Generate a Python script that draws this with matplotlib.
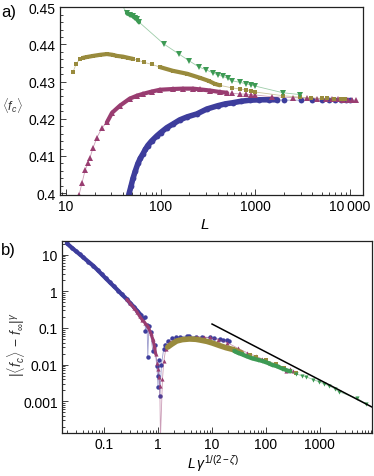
import numpy as np
import matplotlib.pyplot as plt
from matplotlib.ticker import LogLocator, NullFormatter, MultipleLocator

plt.rcParams['font.family'] = ['Liberation Sans', 'DejaVu Sans']
plt.rcParams['mathtext.fontset'] = 'custom'
plt.rcParams['mathtext.it'] = 'Liberation Sans:italic'
plt.rcParams['mathtext.rm'] = 'Liberation Sans'

# --- panel a) <f_c> versus L ---
blue_L = [46, 48.5, 51, 54, 57.5, 61, 65, 69, 73, 80, 91, 100, 116, 135, 159, 190, 241, 306,
          400, 480, 575, 700, 880, 1100, 1400, 1700, 2000, 3000, 4000, 5000, 6000, 7000, 8000,
          9000, 10000]
blue_f = [0.3996, 0.4018, 0.4040, 0.4060, 0.4080, 0.4094, 0.4106, 0.4118, 0.4128, 0.4140,
          0.4154, 0.4163, 0.4176, 0.4186, 0.4197, 0.4205, 0.4213, 0.4226, 0.4235, 0.4240,
          0.4243, 0.4247, 0.4250, 0.4251, 0.4251, 0.4251, 0.4250, 0.4250, 0.4250, 0.4250,
          0.4250, 0.4250, 0.4250, 0.4250, 0.4250]

mag_L = [13.7, 14.7, 15.9, 17, 17.9, 19.3, 21.2, 24, 27, 30.6, 37, 47, 56, 65, 80, 98, 134,
         170, 219, 260, 330, 420, 500, 566, 687, 795, 899, 991, 1500, 2500, 3500, 4500, 5500,
         6500, 7500, 8500, 9500, 10500, 11500]
mag_f = [0.3994, 0.4026, 0.4061, 0.4080, 0.4095, 0.4122, 0.4149, 0.4176, 0.4190, 0.4216,
         0.4235, 0.4254, 0.4262, 0.4267, 0.4273, 0.4278, 0.4280, 0.4281, 0.4281, 0.4279,
         0.4276, 0.4272, 0.4270, 0.4268, 0.4267, 0.4266, 0.4265, 0.4264, 0.4259, 0.4257,
         0.4255, 0.4254, 0.4253, 0.4252, 0.4252, 0.4251, 0.4251, 0.4250, 0.4250]

olive_L = [11.85, 12.8, 14, 15.2, 16.6, 19.3, 23, 27, 31, 34.5, 40, 45, 51, 57, 66, 81, 98,
           134, 190, 260, 320, 372, 420, 566, 687, 795, 899, 991, 1950, 2950, 3900, 5000,
           5700, 6800, 8000, 8800]
olive_f = [0.4326, 0.4347, 0.4361, 0.4364, 0.4366, 0.4369, 0.4372, 0.4374, 0.4372, 0.4369,
           0.4367, 0.4364, 0.4361, 0.4358, 0.4352, 0.4346, 0.4339, 0.4329, 0.4321, 0.4310,
           0.4302, 0.4294, 0.4290, 0.4283, 0.4280, 0.4278, 0.4275, 0.4272, 0.4262, 0.4258,
           0.4256, 0.4255, 0.4255, 0.4254, 0.4253, 0.4252]

green_L = [38, 44, 47, 51, 53, 56, 59, 108, 156, 199, 254, 300, 357, 403, 450, 510, 566, 687,
           795, 899, 991, 1950, 2950]
green_f = [0.4510, 0.4484, 0.4480, 0.4476, 0.4472, 0.4468, 0.4460, 0.4401, 0.4374, 0.4356,
           0.4339, 0.4332, 0.4323, 0.4318, 0.4314, 0.4309, 0.4302, 0.4298, 0.4294, 0.4291,
           0.4288, 0.4270, 0.4265]

# --- panel b) scaling collapse ---
blue_bx = [0.020, 0.025, 0.03, 0.035, 0.04, 0.05, 0.062, 0.075, 0.09, 0.105, 0.126, 0.15,
           0.18, 0.21, 0.258, 0.3, 0.35, 0.41, 0.47, 0.52, 0.56, 0.58, 0.62, 0.64, 0.67, 0.72,
           0.79, 0.86, 0.94, 0.97, 0.99, 1.03, 1.07, 1.15, 1.26, 1.35, 1.5, 1.8, 2.1, 2.5, 3.4,
           3.8, 5, 6.5, 9, 11, 13.8, 16, 19, 21]
blue_by = [20.5, 15.4, 12.3, 10.2, 8.6, 6.5, 5.0, 3.8, 2.9, 2.3, 1.76, 1.37, 1.05, 0.83, 0.62,
           0.48, 0.38, 0.29, 0.23, 0.19, 0.2, 0.085, 0.12, 0.016, 0.11, 0.077, 0.024, 0.035,
           0.0091, 0.0049, 0.0024, 0.013, 0.0014, 0.01, 0.0265, 0.035, 0.044, 0.052, 0.056,
           0.058, 0.06, 0.06, 0.058, 0.056, 0.055, 0.052, 0.05, 0.048, 0.047, 0.045]

mag_bx = [0.26, 0.3, 0.35, 0.4, 0.45, 0.5, 0.56, 0.64, 0.72, 0.79, 0.85, 0.9, 0.95, 0.98, 1.03,
          1.07, 1.1, 1.2, 1.27, 1.38, 1.5, 1.63, 2, 2.5, 3.5, 5.2, 7, 9, 13, 19, 30, 45, 65, 86,
          120, 178, 240, 275, 320]
mag_by = [0.6, 0.47, 0.36, 0.28, 0.21, 0.17, 0.14, 0.11, 0.075, 0.05, 0.032, 0.019, 0.011,
          0.0075, 0.0045, 0.0026, 0.0001, 0.004, 0.0125, 0.0265, 0.036, 0.041, 0.047, 0.05,
          0.054, 0.056, 0.056, 0.055, 0.048, 0.04, 0.028, 0.021, 0.017, 0.0142, 0.011, 0.0091,
          0.0066, 0.0075, 0.0065]

olive_bx = [1.5, 1.78, 2.2, 2.8, 3.8, 5, 5.9, 8, 10, 13.8, 18, 24, 35, 50, 66, 100, 157, 220,
            275, 370]
olive_by = [0.03, 0.036, 0.044, 0.048, 0.05, 0.049, 0.047, 0.043, 0.039, 0.033, 0.029, 0.026,
            0.021, 0.018, 0.016, 0.013, 0.0104, 0.008, 0.0066, 0.0058]

green_bx = [26, 30, 36, 43, 55, 70, 86, 110, 130, 157, 200, 280, 370, 460, 565, 750, 970, 1200,
            1500, 1900, 2300, 4900, 7400]
green_by = [0.0233, 0.021, 0.019, 0.017, 0.0148, 0.0135, 0.0125, 0.011, 0.0098, 0.0091, 0.0078,
            0.0065, 0.0055, 0.005, 0.0046, 0.0039, 0.0034, 0.003, 0.0026, 0.0022, 0.0018,
            0.0012, 0.00084]

fit_x = [10, 9400]
fit_y = [0.128, 0.00069]

c_blue = '#3d3d9c'
c_mag = '#993d71'
c_olive = '#998b3d'
c_green = '#3d9a54'


def draw(ax, x, y, color, marker, ms, dense, band):
    x = np.asarray(x)
    y = np.asarray(y)
    ax.plot(x, y, color=color, lw=0.6, alpha=0.5)
    for lo, hi in dense:
        m = (x >= lo) & (x <= hi)
        ax.plot(x[m], y[m], color=color, lw=band, solid_capstyle='round',
                solid_joinstyle='round')
    ax.plot(x, y, ls='none', marker=marker, ms=ms, color=color, mew=0)


def style(ax):
    for s in ax.spines.values():
        s.set_linewidth(0.9)
        s.set_color('#222222')
    ax.tick_params(which='both', direction='in', top=False, right=False, width=0.6,
                   labelsize=10, colors='#222222', labelcolor='black')
    ax.tick_params(which='major', length=4, pad=3)
    ax.tick_params(which='minor', length=2)


fig = plt.figure(figsize=(3.74, 4.77), dpi=100)

ax1 = fig.add_axes([0.1604, 0.5891, 0.8102, 0.3941])
draw(ax1, blue_L, blue_f, c_blue, 'o', 4.2, [(46, 1700)], 4.0)
draw(ax1, mag_L, mag_f, c_mag, '^', 4.0, [(27, 500)], 3.0)
draw(ax1, olive_L, olive_f, c_olive, 's', 3.4, [(15, 51), (87, 420)], 3.0)
draw(ax1, green_L, green_f, c_green, 'v', 4.0, [(44, 59)], 3.0)
ax1.set_xscale('log')
ax1.set_xlim(8.64, 13680)
ax1.set_ylim(0.3995, 0.45005)
ax1.set_xticks([10, 100, 1000, 10000])
ax1.set_xticklabels(['10', '100', '1000', '10\u2009000'])
ax1.xaxis.set_minor_locator(LogLocator(base=10, subs=np.arange(2, 10)))
ax1.xaxis.set_minor_formatter(NullFormatter())
ax1.set_yticks([0.40, 0.41, 0.42, 0.43, 0.44, 0.45])
ax1.set_yticklabels(['0.4', '0.41', '0.42', '0.43', '0.44', '0.45'])
ax1.yaxis.set_minor_locator(MultipleLocator(0.002))
style(ax1)
ax1.set_ylabel(r'$\langle f_c\rangle$', rotation=0, fontsize=9, color='#333333',
               va='center', ha='center')
ax1.yaxis.set_label_coords(-0.158, 0.479)
ax1.set_xlabel(r'$L$', fontsize=11)
ax1.xaxis.set_label_coords(0.479, -0.115)

ax2 = fig.add_axes([0.1658, 0.0901, 0.8290, 0.4025])
draw(ax2, blue_bx, blue_by, c_blue, 'o', 3.2, [(0.02, 0.5)], 3.0)
draw(ax2, mag_bx, mag_by, c_mag, '^', 3.0, [(0.26, 0.9)], 2.2)
draw(ax2, olive_bx, olive_by, c_olive, 's', 3.0, [(1.5, 35)], 4.0)
draw(ax2, green_bx, green_by, c_green, 'v', 3.0, [(26, 300)], 3.0)
ax2.plot(fit_x, fit_y, color='black', lw=1.1)
ax2.set_xscale('log')
ax2.set_yscale('log')
ax2.set_xlim(0.0163, 9400)
ax2.set_ylim(1.35e-4, 23.7)
ax2.set_xticks([0.1, 1, 10, 100, 1000])
ax2.set_xticklabels(['0.1', '1', '10', '100', '1000'])
ax2.set_yticks([0.001, 0.01, 0.1, 1, 10])
ax2.set_yticklabels(['0.001', '0.01', '0.1', '1', '10'])
for axis in (ax2.xaxis, ax2.yaxis):
    axis.set_minor_locator(LogLocator(base=10, subs=np.arange(2, 10)))
    axis.set_minor_formatter(NullFormatter())
style(ax2)
ax2.set_ylabel(r'$|\langle f_c\rangle\,-\,f_\infty|^{\gamma}$', fontsize=10, color='#333333',
               va='center', ha='center')
ax2.yaxis.set_label_coords(-0.148, 0.464)
ax2.set_xlabel(r'$L\,\gamma^{1/(2-\zeta)}$', fontsize=10)
ax2.xaxis.set_label_coords(0.486, -0.1)

fig.text(0.003, 1 - 12 / 477, 'a)', fontsize=12, va='center', ha='left')
fig.text(0.003, 1 - 250 / 477, 'b)', fontsize=12, va='center', ha='left')

fig.savefig('out.png', dpi=100)
